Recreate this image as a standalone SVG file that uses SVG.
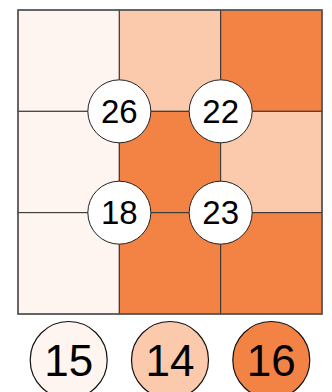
<svg xmlns="http://www.w3.org/2000/svg" width="332" height="392" viewBox="0 0 332 392">
<style>
.l{fill:#fef4f0}.m{fill:#fbcaad}.d{fill:#f38245}
.cell{stroke:#333;stroke-width:1}
.node circle{fill:#fff;stroke:#222;stroke-width:1}
.node text{font-family:"Liberation Sans",Arial,sans-serif;font-size:33px;text-anchor:middle;dominant-baseline:central;fill:#000}
.leg circle{stroke:#111;stroke-width:1.2}
.leg text{font-size:44px}
</style>
<g id="grid">
<rect class="cell l" x="18" y="10" width="101.33" height="101.33"/>
<rect class="cell m" x="119.33" y="10" width="101.33" height="101.33"/>
<rect class="cell d" x="220.67" y="10" width="101.33" height="101.33"/>
<rect class="cell l" x="18" y="111.33" width="101.33" height="101.33"/>
<rect class="cell d" x="119.33" y="111.33" width="101.33" height="101.33"/>
<rect class="cell m" x="220.67" y="111.33" width="101.33" height="101.33"/>
<rect class="cell l" x="18" y="212.67" width="101.33" height="101.33"/>
<rect class="cell d" x="119.33" y="212.67" width="101.33" height="101.33"/>
<rect class="cell d" x="220.67" y="212.67" width="101.33" height="101.33"/>
<rect x="18" y="10" width="304" height="304" fill="none" stroke="#555" stroke-width="1.5"/>
</g>
<g id="n26" class="node"><circle cx="119.33" cy="111.33" r="31.5"/><text x="119.33" y="111.33">26</text></g>
<g id="n22" class="node"><circle cx="220.67" cy="111.33" r="31.5"/><text x="220.67" y="111.33">22</text></g>
<g id="n18" class="node"><circle cx="119.33" cy="212.67" r="31.5"/><text x="119.33" y="212.67">18</text></g>
<g id="n23" class="node"><circle cx="220.67" cy="212.67" r="31.5"/><text x="220.67" y="212.67">23</text></g>
<g id="leg15" class="node leg"><circle cx="68.7" cy="360" r="38.5" style="fill:#fef4f0"/><text x="68.7" y="360">15</text></g>
<g id="leg14" class="node leg"><circle cx="170" cy="360" r="38.5" style="fill:#fbcaad"/><text x="170" y="360">14</text></g>
<g id="leg16" class="node leg"><circle cx="271.3" cy="360" r="38.5" style="fill:#f38245"/><text x="271.3" y="360">16</text></g>
</svg>
